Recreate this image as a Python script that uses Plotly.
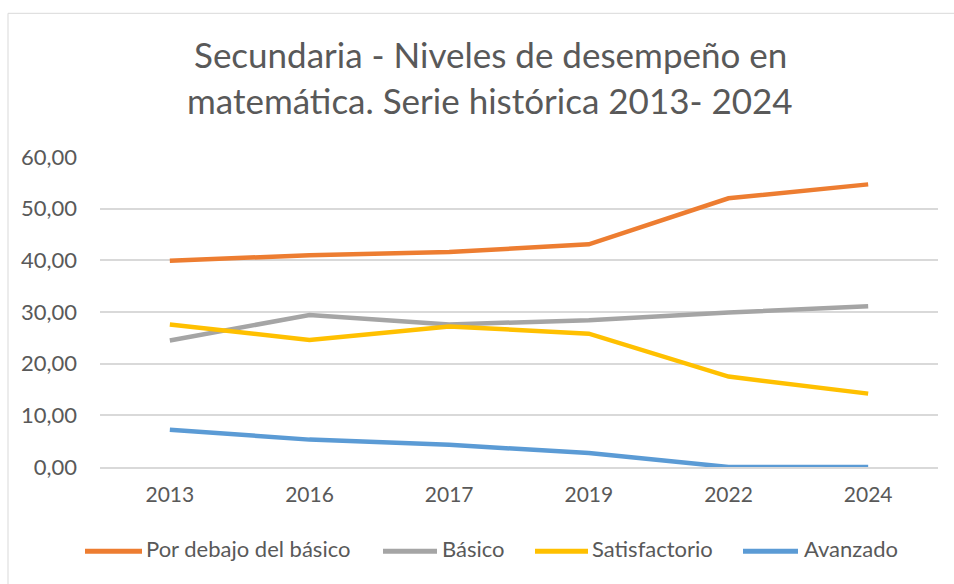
import plotly.graph_objects as go

years = ["2013", "2016", "2017", "2019", "2022", "2024"]
por_debajo = [39.9, 41.0, 41.6, 43.1, 52.0, 54.7]
basico = [24.5, 29.4, 27.6, 28.4, 29.9, 31.1]
satisfactorio = [27.6, 24.6, 27.2, 25.8, 17.5, 14.2]
avanzado = [7.2, 5.3, 4.3, 2.7, 0.0, 0.0]

series_names = ["Por debajo del básico", "Básico", "Satisfactorio", "Avanzado"]
series_values = [por_debajo, basico, satisfactorio, avanzado]
colors = ["#ED7D31", "#A5A5A5", "#FFC000", "#5B9BD5"]

title_lines = ["Secundaria - Niveles de desempeño en",
               "matemática. Serie histórica 2013- 2024"]

W, H = 954, 584
L, R, T, B = 100, 938, 156.7, 466.7

# legend layout (pixels): line start, line end, text start
legend_pos = [(85, 142, 144), (383, 437, 440), (535, 588, 590), (743, 798, 802)]
LEG_LINE_Y, LEG_TEXT_Y = 551, 548

fig = go.Figure()
for name, vals, col in zip(series_names, series_values, colors):
    fig.add_trace(go.Scatter(x=years, y=vals, name=name, mode="lines",
                             line=dict(color=col, width=4.5), showlegend=False))

def px_x(x):
    return (x - L) / (R - L)

def px_y(y):
    return (B - y) / (B - T)

FONT = "Lato"
GREY = "#595959"

for line, yy in zip(title_lines, [54, 100]):
    fig.add_annotation(text=line, xref="paper", yref="paper",
                       x=px_x(490), y=px_y(yy), xanchor="center", yanchor="middle",
                       showarrow=False, font=dict(family=FONT, size=35, color=GREY))

# manual legend
for name, col, (x0, x1, xt) in zip(series_names, colors, legend_pos):
    fig.add_shape(type="line", xref="paper", yref="paper",
                  x0=px_x(x0), x1=px_x(x1), y0=px_y(LEG_LINE_Y), y1=px_y(LEG_LINE_Y),
                  line=dict(color=col, width=5))
    fig.add_annotation(text=name, xref="paper", yref="paper",
                       x=px_x(xt), y=px_y(LEG_TEXT_Y), xanchor="left", yanchor="middle",
                       showarrow=False, font=dict(family=FONT, size=22, color=GREY))

fig.add_shape(type="rect", xref="paper", yref="paper",
              x0=px_x(8), x1=px_x(1000), y0=px_y(700), y1=px_y(13),
              line=dict(color="#D9D9D9", width=1), layer="below")

fig.update_layout(
    width=W, height=H,
    margin=dict(l=L, r=W - R, t=T, b=H - B, pad=0),
    paper_bgcolor="white", plot_bgcolor="white",
    font=dict(family=FONT, size=21, color=GREY),
    showlegend=False,
    xaxis=dict(type="category", range=[-0.5, 5.5], showgrid=False,
               showline=True, linecolor="#D9D9D9", linewidth=1.5,
               ticks="", ticklabelstandoff=8, zeroline=False,
               tickfont=dict(family=FONT, size=21, color=GREY)),
    yaxis=dict(range=[0, 60], dtick=10, tickformat=".2f",
               showgrid=True, gridcolor="#D9D9D9", gridwidth=1.5,
               zeroline=False, showline=False, ticks="",
               ticklabelstandoff=22,
               tickfont=dict(family=FONT, size=22, color=GREY)),
    separators=", ",
)

fig.write_html("out.html", config={"displayModeBar": False},
               post_script="document.body.style.margin='0px';")
